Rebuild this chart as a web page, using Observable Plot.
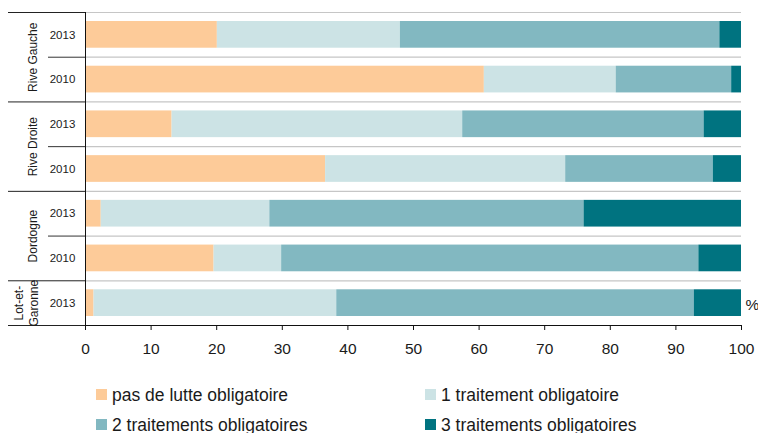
<!DOCTYPE html>
<html>
<head>
<meta charset="utf-8">
<script src="https://cdn.jsdelivr.net/npm/d3@7"></script>
<script src="https://cdn.jsdelivr.net/npm/@observablehq/plot@0.6"></script>
<style>
  body { margin: 0; background: #fff; font-family: "Liberation Sans", Arial, sans-serif; }
  #wrap { position: relative; width: 758px; height: 433px; }
  .legend-item { position: absolute; display: flex; align-items: center; height: 18px; line-height: 18px; font-size: 17.5px; color: #1a1a1a; white-space: nowrap; }
  .legend-item span.sw { display: inline-block; width: 11px; height: 11px; }
</style>
</head>
<body>
<div id="wrap"></div>
<script>
// Rows, top to bottom
const zones = ["Rive Gauche", "Rive Gauche", "Rive Droite", "Rive Droite", "Dordogne", "Dordogne", "Lot-et-Garonne"];
const years = ["2013", "2010", "2013", "2010", "2013", "2010", "2013"];

// Share of plots (%) per control regime
const categories = ["pas de lutte obligatoire", "1 traitement obligatoire", "2 traitements obligatoires", "3 traitements obligatoires"];
const colors = ["#fdcb99", "#cce3e5", "#82b8c1", "#007380"];
const pasDeLutte = [20.1, 60.8, 13.2, 36.6, 2.4, 19.6, 1.3];
const unTraitement = [27.9, 20.1, 44.3, 36.6, 25.7, 10.3, 37.0];
const deuxTraitements = [48.7, 17.6, 36.8, 22.5, 47.9, 63.6, 54.5];
const troisTraitements = [3.3, 1.5, 5.7, 4.3, 24.0, 6.5, 7.2];
const xTicks = [0, 10, 20, 30, 40, 50, 60, 70, 80, 90, 100];

// One record per segment, stacked left to right in category order
const series = [pasDeLutte, unTraitement, deuxTraitements, troisTraitements];
const table = [];
years.forEach((yr, i) => {
  let start = 0;
  series.forEach((vals, k) => {
    table.push({row: i, zone: zones[i], year: yr, cat: categories[k], value: vals[i], x1: start, x2: start + vals[i]});
    start += vals[i];
  });
});

// Zone labels centred on their rows
const zoneLabels = [];
zones.forEach((z, i) => {
  let g = zoneLabels.find(d => d.zone === z);
  if (!g) { g = {zone: z, first: i, last: i}; zoneLabels.push(g); }
  g.last = i;
});
zoneLabels.forEach(g => { g.mid = (g.first + g.last + 1) / 2; });
const zoneEdges = [...zoneLabels.map(g => g.first), zones.length];
const yearEdges = d3.range(1, zones.length).filter(i => !zoneEdges.includes(i));

const font = "'Liberation Sans', Arial, sans-serif";
const ink = "#1a1a1a";

const chart = Plot.plot({
  width: 758,
  height: 368,
  marginLeft: 85,
  marginRight: 17,
  marginTop: 12,
  marginBottom: 43,
  style: {fontFamily: font, color: ink, background: "#fff"},
  x: {domain: [0, 100], axis: null},
  y: {domain: [0, zones.length], reverse: true, axis: null},
  color: {domain: categories, range: colors},
  marks: [
    // row separators across the plot
    Plot.ruleY(d3.range(0, zones.length), {stroke: "#c6c6c6", strokeWidth: 1.2}),
    // stacked bars
    Plot.rectX(table, {
      x1: "x1",
      x2: "x2",
      y1: "row",
      y2: d => d.row + 1,
      fill: "cat",
      insetTop: 9,
      insetBottom: 9
    }),
    // left bracket: zone and year separators
    Plot.ruleY(zoneEdges, {x1: 0, x2: 0, insetLeft: -77, stroke: "#222", strokeWidth: 1}),
    Plot.ruleY(yearEdges, {x1: 0, x2: 0, insetLeft: -37, stroke: "#333", strokeWidth: 1}),
    Plot.ruleX([0], {y1: 0, y2: zones.length, stroke: "#111"}),
    // x axis
    Plot.ruleY([zones.length], {stroke: "#111"}),
    Plot.axisX(xTicks, {tickSize: 5, tickPadding: 12, fontSize: 15.5, label: null, stroke: "#111", fill: ink}),
    Plot.text(["%"], {frameAnchor: "bottom-right", dx: 4, dy: -16, textAnchor: "start", fontSize: 15.5, fill: ink}),
    // year labels
    Plot.text(years, {y: (d, i) => i + 0.5, frameAnchor: "left", dx: -23, textAnchor: "middle", fontSize: 11.5, fill: ink}),
    // zone labels, rotated
    Plot.text(zoneLabels.filter(g => !g.zone.includes("-")), {
      y: "mid", text: "zone", frameAnchor: "left", dx: -52, rotate: -90, textAnchor: "middle", fontSize: 12, fill: ink
    }),
    Plot.text(zoneLabels.filter(g => g.zone.includes("-")), {
      y: "mid", text: g => g.zone.replace("et-", "et-\n"), frameAnchor: "left", dx: -59.5, rotate: -90,
      textAnchor: "middle", lineAnchor: "middle", lineHeight: 1.25, fontSize: 12, fill: ink
    })
  ]
});

const wrap = document.getElementById("wrap");
wrap.appendChild(chart);

// Legend, two columns below the chart
const legendPos = [
  {left: 96, top: 385.5, gap: 5},
  {left: 425, top: 385.5, gap: 5},
  {left: 96, top: 415.5, gap: 5},
  {left: 425, top: 415.5, gap: 5}
];
categories.forEach((c, k) => {
  const item = document.createElement("div");
  item.className = "legend-item";
  item.style.left = legendPos[k].left + "px";
  item.style.top = legendPos[k].top + "px";
  const sw = document.createElement("span");
  sw.className = "sw";
  sw.style.background = colors[k];
  sw.style.marginRight = legendPos[k].gap + "px";
  item.appendChild(sw);
  item.appendChild(document.createTextNode(c));
  wrap.appendChild(item);
});
</script>
</body>
</html>
